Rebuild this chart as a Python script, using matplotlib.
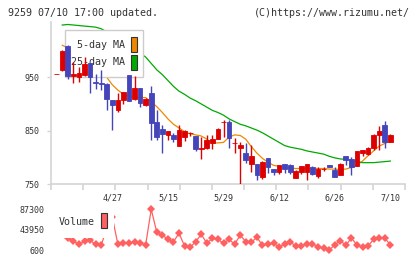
import numpy as np
import matplotlib
matplotlib.use('Agg')
import matplotlib.pyplot as plt
from matplotlib.patches import Rectangle

nan = np.nan

# ローソク足 (0 = 一番左)
opens = [956, 964, 1009, 953, 951, 954, 976, 941, 939, 937, 907, 888, 907, 954, 910, 930,
         898, 921, 867, 853, 841, 842, 821, 838, 845, 840, 815, 818, 827, 834, 866, 867,
         826, 818, 808, 787, 787, 764, 799, 778, 773, 787, 785, 762, 773, 773, 782, 765,
         779, 785, 776, 767, 802, 797, 784, 808, 806, 818, 841, 860, 829]
highs = [956, 1001, 1010, 978, 970, 988, 977, 957, 964, 940, 907, 921, 923, 955, 952, 930,
         912, 934, 888, 861, 849, 846, 861, 851, 848, 840, 838, 842, 842, 855, 870, 870,
         837, 829, 827, 824, 787, 794, 799, 778, 786, 788, 787, 777, 784, 787, 784, 781,
         781, 785, 782, 790, 802, 801, 811, 814, 819, 844, 859, 869, 844]
lows = [956, 962, 946, 940, 942, 952, 921, 929, 926, 888, 851, 885, 900, 905, 907, 895,
        897, 832, 833, 808, 832, 829, 821, 831, 840, 811, 796, 815, 816, 834, 839, 818,
        808, 749, 790, 773, 757, 759, 771, 767, 768, 771, 768, 762, 768, 758, 767, 762,
        774, 782, 764, 767, 786, 767, 784, 803, 805, 814, 814, 817, 829]
closes = [956, 1000, 953, 956, 958, 974, 951, 940, 937, 910, 898, 907, 923, 906, 930, 901,
          909, 864, 838, 843, 849, 835, 852, 849, 845, 815, 818, 832, 834, 853, 866, 837,
          826, 823, 795, 802, 766, 792, 781, 773, 785, 778, 773, 774, 783, 787, 769, 779,
          779, 782, 764, 787, 795, 781, 811, 814, 818, 842, 849, 829, 842]

ma5 = [nan, 1010, 1005, 995, 985, 975, 967, 960, 954, 950, 936, 926, 918, 914, 912, 912,
       912, 904, 895, 884, 872, 862, 855, 848, 844, 842, 840, 834, 827, 827, 828, 838,
       842, 841, 834, 820, 808, 798, 791, 785, 783, 781, 780, 779, 779, 779, 779, 779,
       779, 778, 778, 777, 778, 781, 785, 793, 803, 812, 821, 826, 830]
ma25 = [nan, 1048, 1049, 1048, 1047, 1046, 1045, 1044, 1041, 1035, 1028, 1022, 1015, 1008, 1002, 995,
        988, 976, 964, 955, 944, 933, 924, 918, 911, 906, 900, 894, 888, 884, 879, 872,
        867, 862, 859, 855, 851, 846, 840, 834, 828, 822, 819, 817, 815, 812, 810, 808,
        806, 802, 799, 797, 796, 794, 792, 790, 790, 790, 791, 792, 793]

volume = [nan, nan, 26800, 19100, 12700, 19100, 21300, 12700, 10600, 46800, 70900, 12700,
          14900, 14900, 18300, 14900, 11700, 87300, 38300, 32500, 23400, 18300, 36200, 9100,
          6400, 18300, 34000, 14900, 25500, 23400, 14900, 23400, 12700, 32500, 18300, 17000,
          27700, 10600, 12700, 14900, 7600, 12700, 17600, 9100, 9100, 13400, 13400, 7600,
          4200, 600, 11300, 20400, 10600, 26200, 11300, 6400, 9100, 23400, 26200, 26200, 11300]

date_pos = [10, 20, 30, 40, 50, 60]
date_labels = ['4/27', '5/15', '5/29', '6/12', '6/26', '7/10']
price_ticks = [750, 850, 950]
vol_ticks = [600, 43950, 87300]

RED = '#dd0000'
BLUE = '#4444bb'
ORANGE = '#ee8800'
GREEN = '#00aa00'
VOLC = '#ff6060'
GRID = '#d4d4d4'
TXT = '#333333'
W, H = 420, 259

plt.rcParams['font.family'] = 'DejaVu Sans Mono'

fig = plt.figure(figsize=(4.2, 2.59), dpi=100)

def fx(px):
    return px / W

def fy(py):
    return 1 - py / H

xlim = (-1.025, 62.64)

# 株価
ax = fig.add_axes([fx(51), fy(184), fx(354), 162 / H])
x = np.arange(len(closes))
cols = [RED if c >= o else BLUE for o, c in zip(opens, closes)]
ax.vlines(x, lows, highs, colors=cols, linewidth=1.0, zorder=3)
bottoms = [min(o, c) for o, c in zip(opens, closes)]
heights = [abs(c - o) for o, c in zip(opens, closes)]
ax.bar(x, heights, bottom=bottoms, width=0.85, color=cols, edgecolor=cols,
       linewidth=0.6, zorder=3)
ax.plot(x, ma5, color=ORANGE, linewidth=0.9, zorder=1)
ax.plot(x, ma25, color=GREEN, linewidth=0.9, zorder=1)

ax.set_xlim(*xlim)
ax.set_ylim(750, 750 + 162 / 0.5335)
for s in ['top', 'right']:
    ax.spines[s].set_visible(False)
for s in ['left', 'bottom']:
    ax.spines[s].set_color(GRID)
    ax.spines[s].set_linewidth(1.2)
ax.set_yticks(price_ticks)
ax.set_yticklabels([str(v) for v in price_ticks])
ax.tick_params(axis='y', colors=GRID, labelcolor=TXT, labelsize=6, length=3, width=1, pad=5)
ax.set_xticks(np.linspace(xlim[0], xlim[1], 12))
ax.set_xticklabels([])
ax.tick_params(axis='x', which='major', colors=GRID, length=4, width=1.2)
ax.set_xticks(date_pos, minor=True)
ax.set_xticklabels(date_labels, minor=True)
ax.tick_params(axis='x', which='minor', length=0, labelsize=6, labelcolor=TXT, pad=7)

# 凡例
ax.add_patch(Rectangle((fx(65), fy(77.3)), fx(78), 47.3 / H, transform=fig.transFigure,
                       facecolor='white', edgecolor='#cccccc', linewidth=1, zorder=2, clip_on=False))
ax.text(fx(125), fy(44.7), '5-day MA', transform=fig.transFigure, ha='right', va='center',
        fontsize=7.2, color=TXT, zorder=2.5)
ax.text(fx(125), fy(62.3), '25-day MA', transform=fig.transFigure, ha='right', va='center',
        fontsize=7.2, color=TXT, zorder=2.5)
ax.add_patch(Rectangle((fx(131), fy(52.3)), fx(6), 15.3 / H, transform=fig.transFigure,
                       facecolor=ORANGE, edgecolor=TXT, linewidth=0.8, zorder=2.5, clip_on=False))
ax.add_patch(Rectangle((fx(131), fy(70)), fx(6), 15.3 / H, transform=fig.transFigure,
                       facecolor=GREEN, edgecolor=TXT, linewidth=0.8, zorder=2.5, clip_on=False))

# 出来高
ax2 = fig.add_axes([fx(51), fy(253), fx(354), 48 / H])
ax2.plot(x, volume, color=VOLC, linewidth=0.9, marker='D', markersize=3.6,
         markeredgewidth=0, zorder=2)
ax2.set_xlim(*xlim)
ax2.set_ylim(-5790, 96460)
for s in ax2.spines.values():
    s.set_visible(False)
ax2.set_xticks([])
ax2.set_yticks(vol_ticks)
ax2.set_yticklabels([str(v) for v in vol_ticks])
ax2.tick_params(axis='y', length=0, labelsize=6, labelcolor=TXT, pad=4.7)
ax2.add_patch(Rectangle((fx(55), fy(238)), fx(59), 33 / H, transform=fig.transFigure,
                        facecolor='white', edgecolor='none', zorder=3, clip_on=False))
ax2.text(fx(59), fy(221.7), 'Volume', transform=fig.transFigure, ha='left', va='center',
         fontsize=7.2, color=TXT, zorder=4)
ax2.add_patch(Rectangle((fx(101), fy(228)), fx(6), 15 / H, transform=fig.transFigure,
                        facecolor=VOLC, edgecolor=TXT, linewidth=0.8, zorder=4, clip_on=False))

fig.text(fx(8), fy(12.7), '9259 07/10 17:00 updated.', ha='left', va='center',
         fontsize=7.2, color=TXT)
fig.text(fx(410), fy(12.7), '(C)https://www.rizumu.net/', ha='right', va='center',
         fontsize=7.2, color=TXT)

fig.savefig('out.png', dpi=100)
